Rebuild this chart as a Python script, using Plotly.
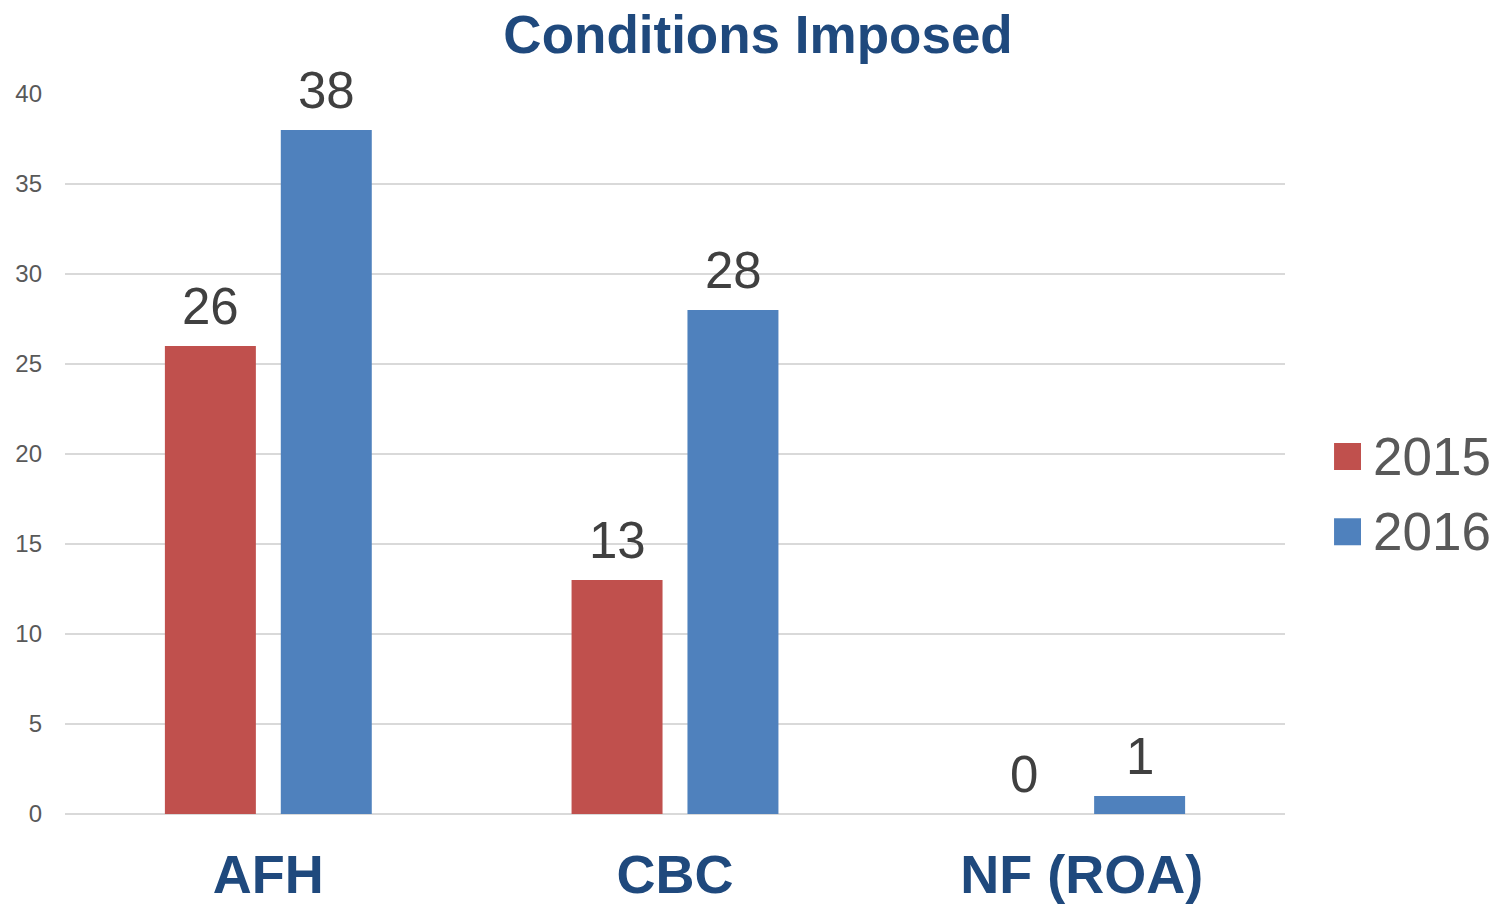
import plotly.graph_objects as go

categories = ["AFH", "CBC", "NF (ROA)"]
series_names = ["2015", "2016"]
values_2015 = [26, 13, 0]
values_2016 = [38, 28, 1]
colors = ["#C0504D", "#4F81BD"]
y_ticks = [0, 5, 10, 15, 20, 25, 30, 35, 40]

FONT = "Liberation Sans, Arial, sans-serif"
BAR_SLOT_PX = 116  # distance between the two bars of a group (from bargap layout)

fig = go.Figure()
for name, vals, col in zip(series_names, [values_2015, values_2016], colors):
    fig.add_trace(go.Bar(
        x=categories, y=vals, name=name,
        marker=dict(color=col, line=dict(width=0)),
        cliponaxis=False, showlegend=False,
    ))

# value labels above bars
for i, vals in enumerate([values_2015, values_2016]):
    shift = (i - 0.5) * BAR_SLOT_PX
    for cat, v in zip(categories, vals):
        fig.add_annotation(x=cat, y=v, xref="x", yref="y", text=str(v),
                           showarrow=False, xanchor="center", yanchor="bottom",
                           xshift=shift, yshift=9,
                           font=dict(family=FONT, size=51, color="#404040"))

# manual legend (large swatches like the original)
leg_y = [0.4965, 0.392]
for name, col, yy in zip(series_names, colors, leg_y):
    fig.add_shape(type="rect", xref="paper", yref="paper",
                  x0=1.0402, x1=1.0623, y0=yy - 0.01875, y1=yy + 0.01875,
                  fillcolor=col, line=dict(width=0))
    fig.add_annotation(text=name, xref="paper", yref="paper",
                       x=1.0705, y=yy, xanchor="left", yanchor="middle",
                       showarrow=False,
                       font=dict(family=FONT, size=53, color="#595959"))

fig.update_layout(
    width=1501, height=906,
    margin=dict(l=57, r=224, t=86, b=100, autoexpand=False),
    paper_bgcolor="white", plot_bgcolor="white",
    barmode="group", bargap=0.43, bargroupgap=0.215,
    title=dict(text="<b>Conditions Imposed</b>", x=0.4997, xanchor="center",
               y=0.9705, yanchor="middle",
               font=dict(family=FONT, size=53, color="#1F497D")),
    font=dict(family=FONT),
)
fig.update_yaxes(range=[0, 40], tickvals=y_ticks, showgrid=True,
                 gridcolor="#D9D9D9", gridwidth=2, zeroline=True,
                 zerolinecolor="#D9D9D9", zerolinewidth=2,
                 tickfont=dict(family=FONT, size=24, color="#595959"),
                 ticklabelstandoff=22, showline=False, automargin=False)
fig.update_xaxes(tickfont=dict(family=FONT, size=54, color="#1F497D"),
                 ticklabelstandoff=24, showline=False, automargin=False,
                 tickprefix="<b>", ticksuffix="</b>")

fig.write_html("out.html")
